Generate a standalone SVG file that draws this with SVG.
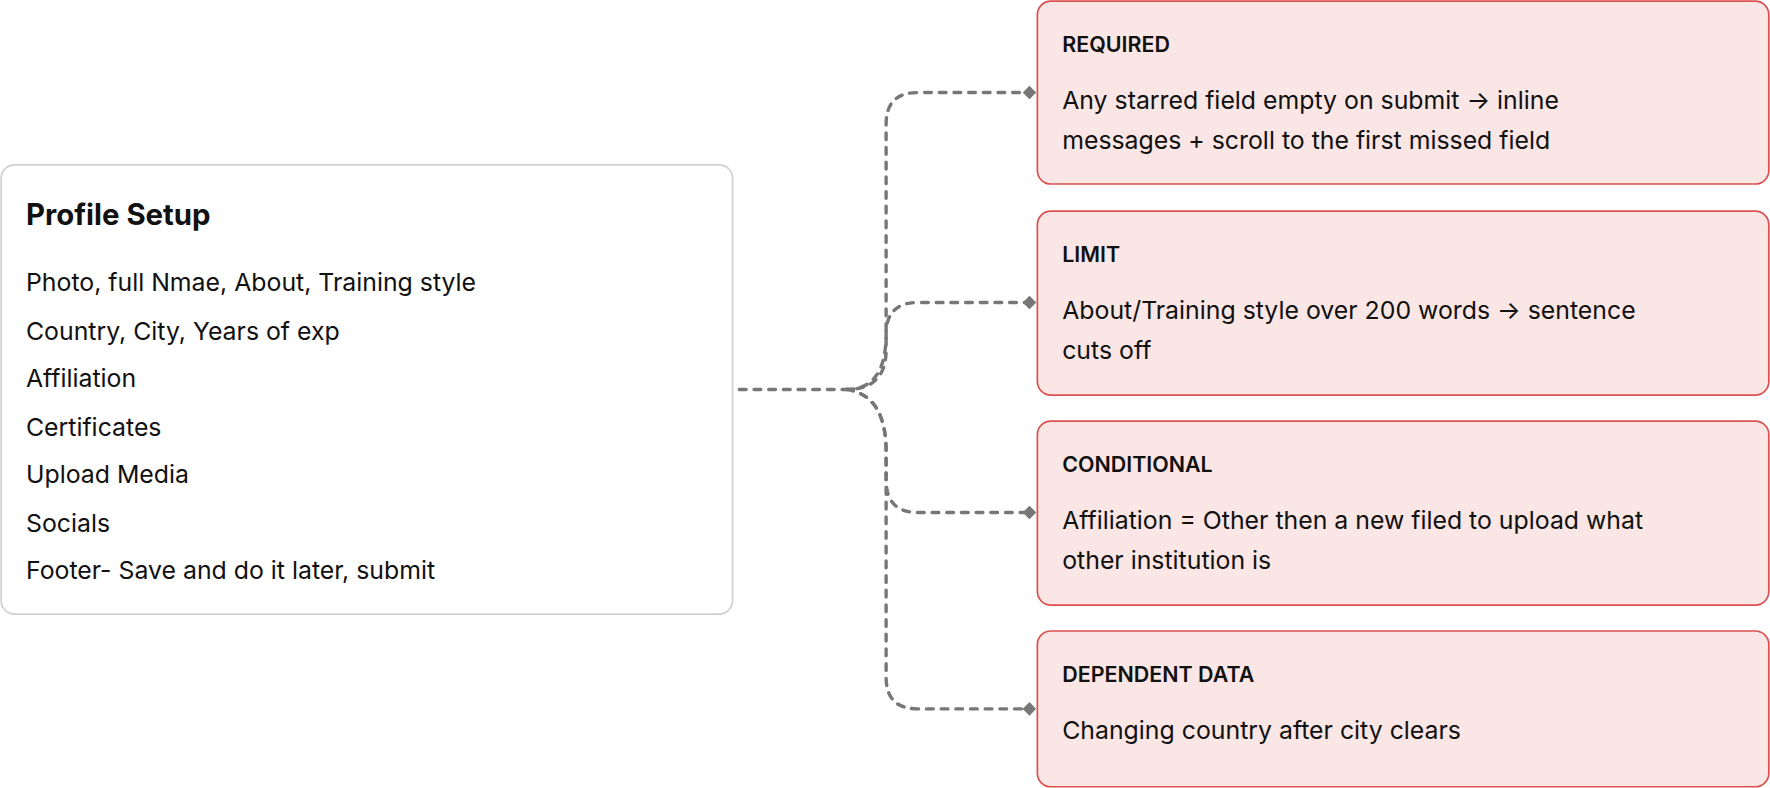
<svg xmlns="http://www.w3.org/2000/svg" width="1770" height="788" viewBox="0 0 1770 788">
<style>
.t{font-family:Inter,"Noto Sans",sans-serif;fill:#111}
.h{font-size:26px;font-weight:700}
.b{font-size:22px}
.k{font-size:19px;font-weight:600}
.card{fill:#fae6e5;stroke:#dc5050;stroke-width:1.5}
.c{fill:none;stroke:#777;stroke-width:3;stroke-dasharray:6 7;stroke-linecap:round}
</style>
<defs><marker id="d" viewBox="0 0 12 12" refX="6" refY="6" markerWidth="12" markerHeight="12" markerUnits="userSpaceOnUse"><path d="M6 0L12 6L6 12L0 6Z" fill="#777"/></marker></defs>
<rect width="1770" height="788" fill="#fff"/>
<g transform="scale(1.1288)">
<g id="connectors">
<path class="c" d="M655 345H750Q785 345 785 310V110Q785 82 813 82H912" marker-end="url(#d)"/>
<path class="c" d="M750 345Q785 345 785 296Q785 268 813 268H912" marker-end="url(#d)"/>
<path class="c" d="M750 345Q785 350 785 400V425Q785 454 813 454H912" marker-end="url(#d)"/>
<path class="c" d="M750 345Q785 350 785 400V600Q785 628 813 628H912" marker-end="url(#d)"/>
</g>
<g id="profile">
<rect x="1" y="146" width="648" height="398" rx="12" fill="#fff" stroke="#d0d0d0" stroke-width="1.5"/>
<text class="t h" x="23" y="199">Profile Setup</text>
<text class="t b" x="23" y="258">Photo, full Nmae, About, Training style</text>
<text class="t b" x="23" y="301">Country, City, Years of exp</text>
<text class="t b" x="23" y="343">Affiliation</text>
<text class="t b" x="23" y="386">Certificates</text>
<text class="t b" x="23" y="428">Upload Media</text>
<text class="t b" x="23" y="471">Socials</text>
<text class="t b" x="23" y="513">Footer- Save and do it later, submit</text>
</g>
<g id="required">
<rect class="card" x="919" y="1" width="648" height="162" rx="12"/>
<text class="t k" x="941" y="46">REQUIRED</text>
<text class="t b" x="941" y="97">Any starred field empty on submit → inline</text>
<text class="t b" x="941" y="132">messages + scroll to the first missed field</text>
</g>
<g id="limit">
<rect class="card" x="919" y="187" width="648" height="163" rx="12"/>
<text class="t k" x="941" y="232">LIMIT</text>
<text class="t b" x="941" y="283">About/Training style over 200 words → sentence</text>
<text class="t b" x="941" y="318">cuts off</text>
</g>
<g id="conditional">
<rect class="card" x="919" y="373" width="648" height="163" rx="12"/>
<text class="t k" x="941" y="418">CONDITIONAL</text>
<text class="t b" x="941" y="469">Affiliation = Other then a new filed to upload what</text>
<text class="t b" x="941" y="504">other institution is</text>
</g>
<g id="dependent">
<rect class="card" x="919" y="559" width="648" height="138" rx="12"/>
<text class="t k" x="941" y="604">DEPENDENT DATA</text>
<text class="t b" x="941" y="655">Changing country after city clears</text>
</g>
</g>
</svg>
